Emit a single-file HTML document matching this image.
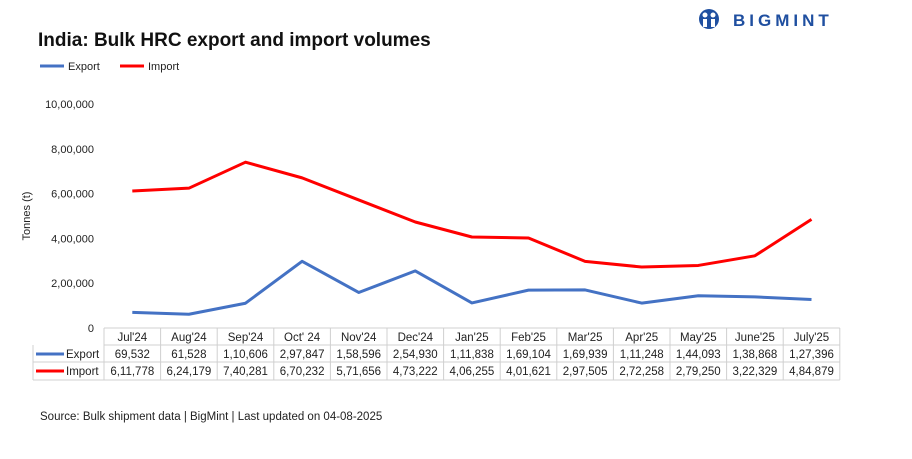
<!DOCTYPE html>
<html><head><meta charset="utf-8"><style>
body{margin:0;background:#fff;width:912px;height:454px;overflow:hidden;font-family:"Liberation Sans",sans-serif}
svg text{font-family:"Liberation Sans",sans-serif}
</style></head><body>
<svg width="912" height="454">
<text x="38" y="46" font-size="19" font-weight="bold" fill="#111">India: Bulk HRC export and import volumes</text>
<g>
<circle cx="709" cy="19" r="10" fill="#1f4fa0"/>
<circle cx="705" cy="15" r="2.5" fill="#fff"/><circle cx="713" cy="15" r="2.5" fill="#fff"/>
<rect x="703" y="19" width="4" height="8" fill="#fff"/><rect x="711" y="19" width="4" height="8" fill="#fff"/>
<text x="733" y="26" font-size="17" font-weight="bold" fill="#1f4fa0" letter-spacing="4">BIGMINT</text>
</g>
<g>
<line x1="40" y1="66" x2="64" y2="66" stroke="#4472c4" stroke-width="3"/>
<text x="68" y="70" font-size="11" fill="#222">Export</text>
<line x1="120" y1="66" x2="144" y2="66" stroke="#ff0000" stroke-width="3"/>
<text x="148" y="70" font-size="11" fill="#222">Import</text>
</g>
<text transform="translate(30,216) rotate(-90)" text-anchor="middle" font-size="11" fill="#222">Tonnes (t)</text>
<g id="yax"></g><g id="lines"></g><g id="table"></g>
<text x="40" y="420" font-size="11.5" fill="#222">Source: Bulk shipment data | BigMint | Last updated on 04-08-2025</text>
</svg>
<script>
const categories=["Jul'24","Aug'24","Sep'24","Oct' 24","Nov'24","Dec'24","Jan'25","Feb'25","Mar'25","Apr'25","May'25","June'25","July'25"];
const exportVals=[69532,61528,110606,297847,158596,254930,111838,169104,169939,111248,144093,138868,127396];
const importVals=[611778,624179,740281,670232,571656,473222,406255,401621,297505,272258,279250,322329,484879];
const yTicks=[0,200000,400000,600000,800000,1000000];
const NS="http://www.w3.org/2000/svg";
const x0=104,cw=56.6,yBase=328,yTop=104,yMax=1000000;
const X=i=>x0+cw*(i+0.5);
const Y=v=>yBase-(v/yMax)*(yBase-yTop);
function fmt(n){let s=String(n);if(s.length<=3)return s;let last=s.slice(-3),rest=s.slice(0,-3);rest=rest.replace(/\B(?=(\d{2})+(?!\d))/g,",");return rest+","+last;}
function mk(tag,a,p){const e=document.createElementNS(NS,tag);for(const k in a)e.setAttribute(k,a[k]);p.appendChild(e);return e;}
const yax=document.getElementById('yax');
yTicks.forEach(t=>{const e=mk('text',{x:94,y:Y(t)+4,'text-anchor':'end','font-size':11,fill:'#222'},yax);e.textContent=fmt(t);

});
const lines=document.getElementById('lines');
[[exportVals,'#4472c4','export-line'],[importVals,'#ff0000','import-line']].forEach(([vals,c,n])=>{
const p=mk('polyline',{points:vals.map((v,i)=>X(i)+','+Y(v)).join(' '),fill:'none',stroke:c,'stroke-width':3,'stroke-linejoin':'round'},lines);

});
const tb=document.getElementById('table');
const rows=[345,362,380];
mk('line',{x1:x0,y1:328,x2:x0+cw*13,y2:328,stroke:'#d0d0d0'},tb);
rows.forEach(y=>mk('line',{x1:(y==345?x0:33),y1:y,x2:x0+cw*13,y2:y,stroke:'#d0d0d0'},tb));
mk('line',{x1:33,y1:345,x2:33,y2:380,stroke:'#d0d0d0'},tb);
for(let i=0;i<=13;i++)mk('line',{x1:x0+cw*i,y1:328,x2:x0+cw*i,y2:380,stroke:'#d0d0d0'},tb);
mk('line',{x1:36,y1:354,x2:64,y2:354,stroke:'#4472c4','stroke-width':3},tb);
mk('line',{x1:36,y1:371,x2:64,y2:371,stroke:'#ff0000','stroke-width':3},tb);
let t=mk('text',{x:66,y:358,'font-size':11.5,fill:'#222'},tb);t.textContent='Export';


t=mk('text',{x:66,y:375,'font-size':11.5,fill:'#222'},tb);t.textContent='Import';


categories.forEach((c,i)=>{
let e=mk('text',{x:X(i),y:341,'text-anchor':'middle','font-size':11.5,fill:'#222'},tb);e.textContent=c;


e=mk('text',{x:X(i),y:358,'text-anchor':'middle','font-size':11.5,fill:'#222'},tb);e.textContent=fmt(exportVals[i]);


e=mk('text',{x:X(i),y:375,'text-anchor':'middle','font-size':11.5,fill:'#222'},tb);e.textContent=fmt(importVals[i]);


});
</script>
</body></html>
